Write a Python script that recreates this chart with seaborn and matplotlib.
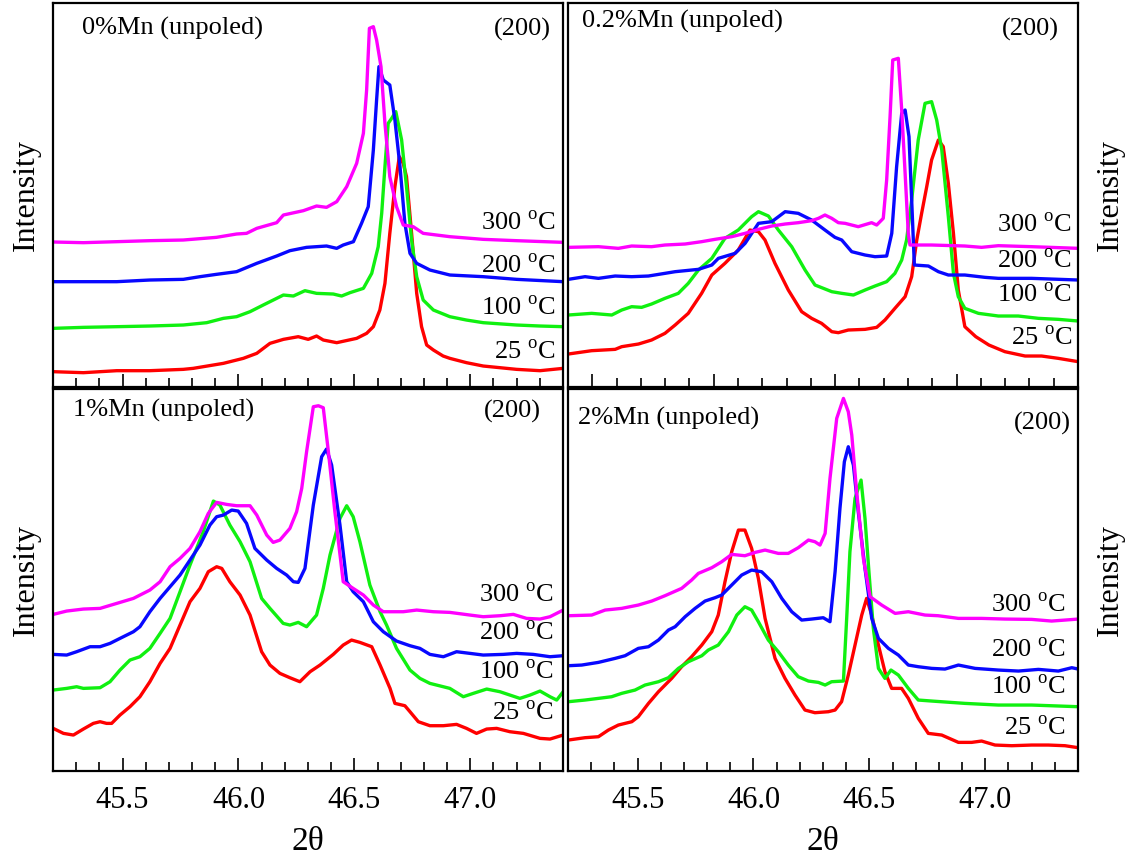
import matplotlib
matplotlib.use('Agg')
import matplotlib.pyplot as plt
import seaborn as sns
from matplotlib.ticker import MultipleLocator, FormatStrFormatter

# ---- 0% Mn (unpoled) ----
tt_0_25 = [45.201, 45.331, 45.475, 45.618, 45.762, 45.805, 45.935, 46.021, 46.079, 46.136, 46.194, 46.258,
           46.301, 46.337, 46.366, 46.424, 46.510, 46.553, 46.582, 46.610, 46.632, 46.653, 46.675, 46.694,
           46.711, 46.725, 46.747, 46.769, 46.790, 46.812, 46.841, 46.883, 46.912, 46.984, 47.056, 47.200,
           47.301, 47.401]
in_0_25 = [46, 43, 49, 49, 53, 56, 71, 86, 101, 131, 143, 151, 143, 153, 141, 133, 146, 161, 181, 231, 311,
           461, 601, 691, 671, 631, 461, 281, 181, 126, 111, 93, 86, 73, 63, 53, 49, 56]
tt_0_100 = [45.201, 45.331, 45.475, 45.618, 45.762, 45.863, 45.935, 45.992, 46.050, 46.107, 46.165, 46.194,
            46.237, 46.287, 46.337, 46.409, 46.445, 46.481, 46.539, 46.575, 46.603, 46.618, 46.632, 46.646,
            46.661, 46.679, 46.704, 46.725, 46.747, 46.769, 46.797, 46.841, 46.912, 46.983, 47.056, 47.200,
            47.301, 47.401]
in_0_100 = [176, 179, 181, 183, 186, 193, 206, 211, 226, 246, 266, 276, 273, 289, 281, 279, 273, 283, 296,
            341, 421, 521, 661, 791, 806, 826, 741, 601, 441, 331, 261, 231, 211, 201, 193, 186, 183, 181]
tt_0_200 = [45.201, 45.331, 45.475, 45.618, 45.762, 45.834, 45.905, 45.992, 46.079, 46.165, 46.222, 46.294,
            46.337, 46.380, 46.424, 46.452, 46.496, 46.531, 46.560, 46.582, 46.596, 46.606, 46.625, 46.653,
            46.675, 46.697, 46.718, 46.740, 46.769, 46.826, 46.912, 47.056, 47.200, 47.401]
in_0_200 = [316, 316, 316, 321, 323, 331, 338, 346, 371, 393, 409, 419, 421, 423, 416, 426, 436, 491, 541,
            711, 861, 961, 921, 906, 801, 661, 491, 401, 371, 351, 336, 331, 323, 316]
tt_0_300 = [45.201, 45.331, 45.475, 45.618, 45.762, 45.905, 45.992, 46.035, 46.079, 46.165, 46.194, 46.280,
            46.337, 46.380, 46.424, 46.467, 46.510, 46.539, 46.553, 46.565, 46.582, 46.596, 46.615, 46.632,
            46.653, 46.682, 46.711, 46.754, 46.797, 46.912, 47.056, 47.200, 47.401]
in_0_300 = [435, 433, 436, 439, 441, 449, 459, 461, 476, 493, 516, 529, 543, 539, 556, 601, 671, 761, 891,
            1076, 1081, 1041, 961, 791, 631, 541, 486, 481, 461, 451, 443, 439, 434]

# ---- 0.2% Mn (unpoled) ----
tt_02_25 = [45.401, 45.497, 45.594, 45.621, 45.690, 45.744, 45.799, 45.841, 45.895, 45.950, 45.992, 46.046,
            46.101, 46.149, 46.184, 46.211, 46.252, 46.307, 46.362, 46.403, 46.444, 46.486, 46.513, 46.554,
            46.623, 46.671, 46.705, 46.746, 46.788, 46.815, 46.836, 46.856, 46.877, 46.897, 46.925, 46.945,
            46.966, 46.987, 47.007, 47.034, 47.079, 47.133, 47.199, 47.282, 47.350, 47.419, 47.501]
in_02_25 = [99, 109, 113, 121, 129, 141, 161, 186, 221, 281, 336, 371, 411, 471, 466, 441, 371, 291, 226,
            206, 191, 166, 163, 171, 173, 179, 201, 236, 271, 331, 441, 521, 601, 681, 741, 721, 611, 461,
            291, 181, 151, 126, 106, 93, 93, 86, 76]
tt_02_100 = [45.401, 45.497, 45.580, 45.621, 45.662, 45.703, 45.744, 45.799, 45.854, 45.895, 45.937, 45.992,
             46.046, 46.101, 46.156, 46.184, 46.225, 46.266, 46.321, 46.376, 46.417, 46.486, 46.527, 46.575,
             46.623, 46.664, 46.712, 46.746, 46.774, 46.794, 46.815, 46.842, 46.870, 46.897, 46.918, 46.939,
             46.966, 46.987, 47.007, 47.034, 47.090, 47.172, 47.254, 47.337, 47.419, 47.501]
in_02_100 = [216, 221, 216, 231, 241, 239, 249, 266, 281, 311, 351, 386, 446, 471, 511, 526, 513, 471, 421,
             351, 306, 286, 281, 276, 291, 303, 316, 341, 381, 441, 561, 741, 851, 856, 801, 711, 511, 341,
             271, 236, 221, 213, 213, 206, 203, 198]
tt_02_200 = [45.401, 45.470, 45.525, 45.594, 45.662, 45.731, 45.799, 45.841, 45.937, 45.992, 46.019, 46.088,
             46.129, 46.184, 46.239, 46.294, 46.348, 46.403, 46.458, 46.499, 46.527, 46.568, 46.623, 46.664,
             46.712, 46.733, 46.753, 46.774, 46.788, 46.804, 46.815, 46.826, 46.884, 46.925, 46.966, 47.034,
             47.117, 47.172, 47.309, 47.501]
in_02_200 = [323, 331, 326, 333, 331, 333, 341, 346, 353, 366, 386, 401, 431, 491, 496, 526, 521, 501, 471,
             449, 441, 406, 396, 391, 393, 461, 661, 821, 831, 751, 561, 366, 363, 346, 336, 336, 329, 326,
             326, 321]
tt_02_300 = [45.401, 45.525, 45.607, 45.662, 45.744, 45.799, 45.882, 45.950, 46.005, 46.074, 46.129, 46.184,
             46.239, 46.294, 46.348, 46.403, 46.431, 46.458, 46.486, 46.513, 46.541, 46.595, 46.650, 46.671,
             46.698, 46.712, 46.726, 46.737, 46.760, 46.774, 46.788, 46.801, 46.808, 46.897, 47.034, 47.103,
             47.172, 47.309, 47.501]
in_02_300 = [419, 421, 416, 423, 421, 426, 429, 436, 443, 451, 461, 473, 483, 489, 493, 499, 506, 516, 506,
             493, 491, 481, 493, 486, 506, 621, 811, 981, 986, 831, 641, 461, 426, 426, 423, 419, 424, 421,
             416]

# ---- 1% Mn (unpoled) ----
tt_1_25 = [45.201, 45.245, 45.288, 45.331, 45.374, 45.403, 45.431, 45.453, 45.489, 45.532, 45.575, 45.618,
           45.662, 45.705, 45.748, 45.791, 45.834, 45.870, 45.906, 45.928, 45.963, 46.007, 46.050, 46.100,
           46.136, 46.179, 46.222, 46.265, 46.309, 46.352, 46.409, 46.452, 46.488, 46.524, 46.575, 46.611,
           46.654, 46.675, 46.718, 46.740, 46.776, 46.826, 46.884, 46.941, 46.984, 47.027, 47.071, 47.114,
           47.171, 47.229, 47.301, 47.344, 47.401]
in_1_25 = [128, 113, 108, 126, 143, 148, 143, 143, 168, 193, 223, 268, 323, 368, 438, 508, 548, 598, 613, 608,
           568, 528, 468, 358, 318, 293, 280, 268, 298, 318, 350, 378, 393, 386, 373, 318, 248, 203, 196, 178,
           148, 136, 136, 140, 128, 113, 126, 128, 118, 113, 98, 96, 108]
tt_1_100 = [45.201, 45.259, 45.302, 45.331, 45.403, 45.446, 45.489, 45.532, 45.575, 45.618, 45.662, 45.705,
            45.748, 45.791, 45.848, 45.892, 45.920, 45.963, 46.007, 46.050, 46.100, 46.136, 46.193, 46.222,
            46.258, 46.294, 46.337, 46.366, 46.395, 46.438, 46.467, 46.495, 46.524, 46.567, 46.611, 46.639,
            46.682, 46.740, 46.783, 46.826, 46.912, 46.970, 47.013, 47.071, 47.128, 47.214, 47.258, 47.301,
            47.344, 47.373, 47.401]
in_1_100 = [243, 248, 253, 248, 250, 268, 303, 333, 343, 368, 413, 458, 538, 618, 718, 810, 798, 738, 688,
            628, 518, 488, 443, 438, 446, 433, 468, 548, 648, 758, 796, 763, 688, 558, 478, 438, 368, 303,
            278, 263, 248, 223, 233, 246, 238, 218, 228, 240, 223, 213, 238]
tt_1_200 = [45.201, 45.259, 45.302, 45.360, 45.403, 45.446, 45.489, 45.547, 45.575, 45.618, 45.662, 45.705,
            45.748, 45.791, 45.834, 45.877, 45.906, 45.935, 45.971, 45.999, 46.035, 46.071, 46.122, 46.165,
            46.208, 46.237, 46.258, 46.287, 46.323, 46.359, 46.380, 46.402, 46.438, 46.467, 46.495, 46.539,
            46.582, 46.625, 46.682, 46.740, 46.783, 46.826, 46.884, 46.941, 46.999, 47.056, 47.142, 47.200,
            47.272, 47.344, 47.401]
in_1_200 = [350, 348, 358, 373, 373, 383, 398, 418, 433, 478, 518, 553, 588, 633, 678, 738, 763, 768, 783,
            780, 743, 668, 633, 608, 588, 568, 566, 608, 798, 943, 966, 918, 738, 568, 538, 508, 448, 418, 390,
            376, 368, 350, 343, 358, 353, 348, 350, 353, 350, 343, 346]
tt_1_300 = [45.201, 45.259, 45.331, 45.403, 45.475, 45.547, 45.618, 45.662, 45.705, 45.748, 45.791, 45.834,
            45.870, 45.906, 45.949, 45.992, 46.050, 46.079, 46.122, 46.150, 46.179, 46.222, 46.251, 46.273,
            46.294, 46.323, 46.345, 46.366, 46.388, 46.416, 46.452, 46.495, 46.539, 46.582, 46.625, 46.711,
            46.769, 46.841, 46.912, 46.999, 47.056, 47.128, 47.186, 47.243, 47.301, 47.344, 47.401]
in_1_300 = [470, 480, 486, 488, 503, 518, 543, 568, 613, 638, 668, 718, 773, 806, 800, 796, 796, 768, 708,
            686, 693, 728, 778, 848, 958, 1093, 1096, 1090, 958, 778, 568, 548, 528, 498, 478, 478, 483, 478,
            476, 468, 463, 466, 470, 458, 456, 463, 483]

# ---- 2% Mn (unpoled) ----
tt_2_25 = [45.201, 45.273, 45.331, 45.374, 45.417, 45.475, 45.503, 45.547, 45.590, 45.647, 45.690, 45.733,
           45.777, 45.820, 45.848, 45.877, 45.906, 45.935, 45.963, 45.992, 46.021, 46.050, 46.093, 46.136,
           46.179, 46.222, 46.265, 46.323, 46.352, 46.380, 46.409, 46.438, 46.467, 46.488, 46.510, 46.539,
           46.567, 46.596, 46.639, 46.668, 46.711, 46.754, 46.812, 46.884, 46.941, 46.984, 47.042, 47.114,
           47.200, 47.272, 47.344, 47.401]
in_2_25 = [93, 100, 103, 123, 138, 148, 163, 203, 238, 278, 313, 343, 378, 418, 468, 568, 658, 723, 723, 668,
           578, 458, 338, 278, 228, 183, 175, 178, 183, 208, 288, 378, 468, 518, 468, 378, 298, 248, 248, 218,
           158, 113, 108, 86, 86, 90, 78, 76, 78, 78, 76, 70]
tt_2_100 = [45.201, 45.273, 45.331, 45.388, 45.431, 45.489, 45.532, 45.590, 45.633, 45.676, 45.719, 45.777,
            45.805, 45.848, 45.892, 45.928, 45.963, 45.992, 46.021, 46.064, 46.107, 46.150, 46.193, 46.237,
            46.280, 46.309, 46.337, 46.388, 46.402, 46.416, 46.438, 46.464, 46.481, 46.498, 46.517, 46.539,
            46.567, 46.593, 46.625, 46.668, 46.711, 46.769, 46.912, 47.056, 47.200, 47.401]
in_2_100 = [208, 213, 218, 223, 233, 243, 258, 268, 280, 308, 328, 346, 363, 378, 418, 468, 493, 483, 448,
            393, 358, 318, 283, 270, 266, 258, 268, 270, 458, 658, 818, 873, 758, 598, 428, 308, 278, 303, 288,
            248, 213, 210, 203, 198, 198, 193]
tt_2_200 = [45.201, 45.259, 45.331, 45.403, 45.446, 45.503, 45.547, 45.590, 45.633, 45.662, 45.705, 45.748,
            45.791, 45.834, 45.863, 45.906, 45.949, 45.992, 46.035, 46.079, 46.122, 46.165, 46.208, 46.251,
            46.301, 46.330, 46.352, 46.373, 46.392, 46.409, 46.431, 46.452, 46.481, 46.510, 46.539, 46.582,
            46.625, 46.668, 46.711, 46.769, 46.826, 46.884, 46.956, 47.056, 47.143, 47.229, 47.315, 47.373,
            47.401]
in_2_200 = [316, 318, 326, 338, 346, 368, 373, 393, 423, 433, 463, 488, 510, 520, 528, 558, 588, 603, 598,
            568, 518, 478, 453, 456, 460, 448, 598, 788, 928, 973, 918, 778, 608, 458, 398, 368, 348, 318, 313,
            308, 306, 318, 308, 303, 300, 305, 300, 310, 306]
tt_2_300 = [45.201, 45.302, 45.360, 45.431, 45.503, 45.561, 45.618, 45.690, 45.733, 45.762, 45.820, 45.863,
            45.906, 45.963, 46.007, 46.050, 46.107, 46.150, 46.193, 46.237, 46.265, 46.287, 46.309, 46.330,
            46.359, 46.388, 46.409, 46.424, 46.445, 46.474, 46.503, 46.553, 46.611, 46.668, 46.740, 46.797,
            46.884, 46.984, 47.085, 47.200, 47.286, 47.344, 47.401]
in_2_300 = [466, 468, 483, 488, 498, 510, 526, 548, 573, 593, 610, 628, 650, 646, 656, 663, 653, 653, 670,
            693, 688, 678, 713, 878, 1058, 1118, 1078, 1008, 838, 638, 523, 498, 473, 478, 468, 466, 458, 458,
            456, 455, 450, 453, 456]

temps = ['25', '100', '200', '300']
colors = ['#ff0000', '#10f010', '#0808ff', '#ff00ff']

sns.set_theme(style='white')
plt.rcParams['font.family'] = ['Liberation Serif', 'DejaVu Serif']
plt.rcParams['mathtext.fontset'] = 'custom'
plt.rcParams['mathtext.rm'] = 'Liberation Serif'

fig = plt.figure(figsize=(11.3, 8.57), dpi=100)

panels = [
    dict(rect=[0.0469, 0.5484, 0.4513, 0.4481], xlim=(45.2, 47.4), title='0%Mn (unpoled)',
         curves=[(tt_0_25, in_0_25), (tt_0_100, in_0_100), (tt_0_200, in_0_200), (tt_0_300, in_0_300)],
         title_xy=(0.056, 0.935), hkl_xy=(0.976, 0.930), lab_x=0.986,
         lab_y=[0.091, 0.206, 0.313, 0.427], ylim=1152, bottom=False, side='left'),
    dict(rect=[0.5027, 0.5484, 0.4513, 0.4481], xlim=(45.4, 47.5), title='0.2%Mn (unpoled)',
         curves=[(tt_02_25, in_02_25), (tt_02_100, in_02_100), (tt_02_200, in_02_200), (tt_02_300, in_02_300)],
         title_xy=(0.028, 0.951), hkl_xy=(0.963, 0.931), lab_x=0.988,
         lab_y=[0.127, 0.238, 0.326, 0.420], ylim=1152, bottom=False, side='right'),
    dict(rect=[0.0469, 0.1003, 0.4513, 0.4457], xlim=(45.2, 47.4), title='1%Mn (unpoled)',
         curves=[(tt_1_25, in_1_25), (tt_1_100, in_1_100), (tt_1_200, in_1_200), (tt_1_300, in_1_300)],
         title_xy=(0.040, 0.945), hkl_xy=(0.957, 0.942), lab_x=0.982,
         lab_y=[0.151, 0.258, 0.360, 0.461], ylim=1146, bottom=True, side='left'),
    dict(rect=[0.5027, 0.1003, 0.4513, 0.4457], xlim=(45.2, 47.4), title='2%Mn (unpoled)',
         curves=[(tt_2_25, in_2_25), (tt_2_100, in_2_100), (tt_2_200, in_2_200), (tt_2_300, in_2_300)],
         title_xy=(0.019, 0.923), hkl_xy=(0.986, 0.910), lab_x=0.976,
         lab_y=[0.112, 0.218, 0.317, 0.435], ylim=1146, bottom=True, side='right'),
]

for p in panels:
    ax = fig.add_axes(p['rect'])
    for (tt, inten), c in zip(p['curves'], colors):
        sns.lineplot(x=tt, y=inten, color=c, lw=2.4, ax=ax, estimator=None, sort=False)
    ax.set_xlim(*p['xlim'])
    ax.set_ylim(0, p['ylim'])
    ax.set_yticks([])
    ax.xaxis.set_major_locator(MultipleLocator(0.5))
    ax.xaxis.set_minor_locator(MultipleLocator(0.1))
    ax.xaxis.set_major_formatter(FormatStrFormatter('%.1f'))
    ax.tick_params(axis='x', which='both', direction='in', bottom=True, top=False, color='black',
                   width=1.2, labelsize=22, pad=11, labelcolor='black')
    ax.tick_params(axis='x', which='major', length=9.5)
    ax.tick_params(axis='x', which='minor', length=6.5)
    for s in ax.spines.values():
        s.set_visible(True)
        s.set_color('black')
        s.set_linewidth(1.6)
    if p['bottom']:
        ax.set_xlabel('2θ', fontsize=24, labelpad=8, color='black')
    else:
        ax.tick_params(axis='x', labelbottom=False)
        ax.set_xlabel('')
    if p['side'] == 'right':
        ax.yaxis.set_label_position('right')
        ax.set_ylabel('Intensity', fontsize=23, labelpad=13, color='black', rotation=90)
    else:
        ax.set_ylabel('Intensity', fontsize=23, labelpad=9, color='black')
    ax.text(p['title_xy'][0], p['title_xy'][1], p['title'], transform=ax.transAxes,
            fontsize=19, ha='left', va='center', color='black')
    ax.text(p['hkl_xy'][0], p['hkl_xy'][1], '(200)', transform=ax.transAxes,
            fontsize=19, ha='right', va='center', color='black')
    for t, yy in zip(temps, p['lab_y']):
        ax.text(p['lab_x'], yy, t + r' $^{\mathrm{o}}$C', transform=ax.transAxes,
                fontsize=19, ha='right', va='center', color='black')

fig.savefig('out.png', dpi=100, facecolor='white')
